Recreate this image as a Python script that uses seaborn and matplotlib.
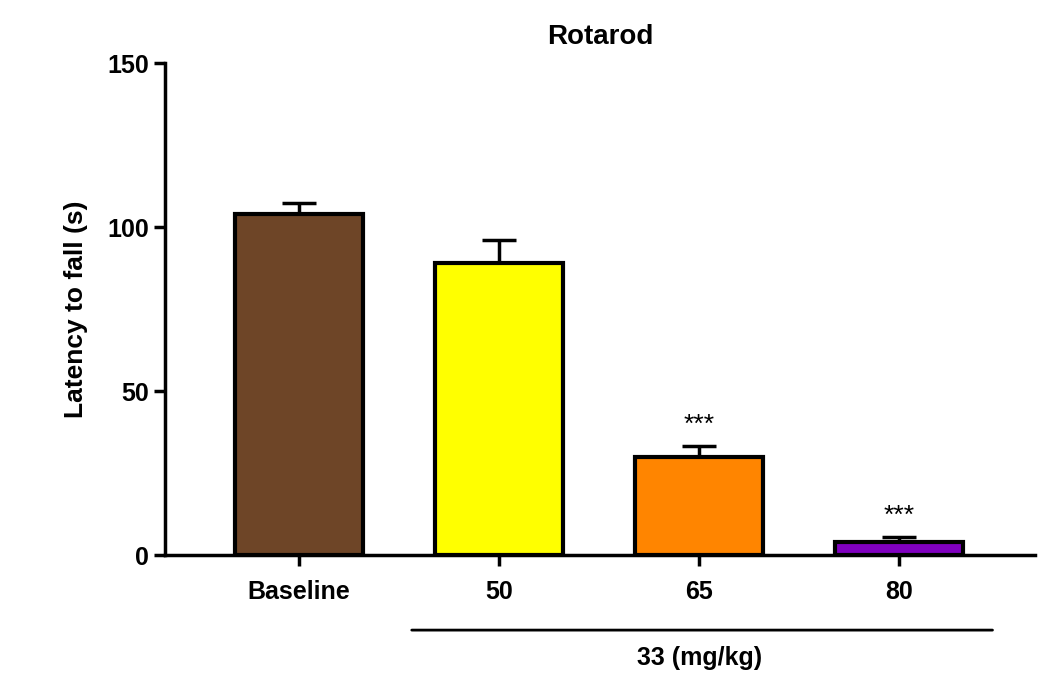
import matplotlib
matplotlib.use("Agg")
import matplotlib.pyplot as plt
import seaborn as sns
import pandas as pd

# data
groups = ["Baseline", "50", "65", "80"]
latency = [104, 89, 30, 4]
sem = [3.5, 7, 3.2, 1.5]
stars = ["", "", "***", "***"]
colors = ["#6E4527", "#FFFF00", "#FF8500", "#8000C0"]

df = pd.DataFrame({"group": groups, "latency": latency})

plt.rcParams["font.family"] = "Liberation Sans"
fig = plt.figure(figsize=(10.5, 6.95), dpi=100)
ax = fig.add_axes([0.157, 0.201, 0.829, 0.708])

sns.barplot(data=df, x="group", y="latency", hue="group", palette=colors,
            legend=False, width=0.64, edgecolor="black", linewidth=3,
            saturation=1, errorbar=None, ax=ax, zorder=2)
ax.errorbar(range(len(groups)), latency, yerr=[[0] * 4, sem], fmt="none",
            ecolor="black", elinewidth=2.5, capsize=12, capthick=2.5, zorder=1)
for i, s in enumerate(stars):
    if s:
        ax.text(i, latency[i] + sem[i] + 3, s, ha="center", va="bottom",
                fontsize=19)

ax.set_xlim(-0.67, 3.68)
ax.set_ylim(0, 150)
ax.set_yticks([0, 50, 100, 150])
sns.despine(ax=ax)
for sp in ["left", "bottom"]:
    ax.spines[sp].set_linewidth(2.5)
ax.tick_params(width=2.5, length=8, labelsize=18)
ax.tick_params(axis="x", pad=10)
for lab in ax.get_xticklabels() + ax.get_yticklabels():
    lab.set_fontweight("bold")
ax.set_xlabel("")
ax.set_ylabel("Latency to fall (s)", fontsize=19, fontweight="bold", labelpad=14)
ax.set_title("Rotarod", fontsize=20, fontweight="bold", pad=14)

# dose bracket below the axis
ax.annotate("", xy=(0.55, -0.152), xytext=(3.48, -0.152),
            xycoords=("data", "axes fraction"),
            arrowprops=dict(arrowstyle="-", lw=2))
ax.text(2.0, -0.185, "33 (mg/kg)", transform=ax.get_xaxis_transform(),
        ha="center", va="top", fontsize=18, fontweight="bold")

fig.savefig("out.png", dpi=100)
